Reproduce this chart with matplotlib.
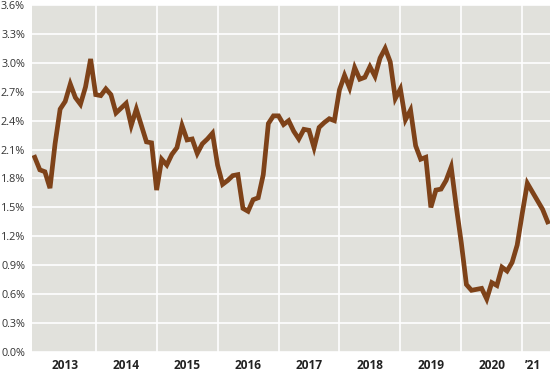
import numpy as np
import matplotlib
matplotlib.use("Agg")
import matplotlib.pyplot as plt
from matplotlib.ticker import FixedLocator, FuncFormatter

# monthly yield readings (%), Jan 2013 onward, one row per year
yields_2013 = [2.02, 1.89, 1.87, 1.70, 2.16, 2.52, 2.60, 2.78, 2.64, 2.57, 2.75, 3.04]
yields_2014 = [2.67, 2.66, 2.73, 2.67, 2.48, 2.53, 2.58, 2.35, 2.52, 2.35, 2.18, 2.17]
yields_2015 = [1.68, 2.00, 1.94, 2.05, 2.12, 2.35, 2.20, 2.21, 2.06, 2.16, 2.21, 2.27]
yields_2016 = [1.94, 1.74, 1.78, 1.83, 1.84, 1.49, 1.46, 1.58, 1.60, 1.84, 2.37, 2.45]
yields_2017 = [2.45, 2.36, 2.40, 2.29, 2.21, 2.31, 2.30, 2.12, 2.33, 2.38, 2.42, 2.40]
yields_2018 = [2.72, 2.87, 2.74, 2.95, 2.83, 2.85, 2.96, 2.86, 3.05, 3.15, 3.01, 2.63]
yields_2019 = [2.73, 2.41, 2.51, 2.14, 2.00, 2.02, 1.50, 1.68, 1.69, 1.78, 1.92, 1.51]
yields_2020 = [1.13, 0.70, 0.64, 0.65, 0.66, 0.55, 0.72, 0.69, 0.88, 0.84, 0.93, 1.11]
yields_2021 = [1.44, 1.75, 1.66, 1.57, 1.48, 1.35]

year_labels = ["2013", "2014", "2015", "2016", "2017", "2018", "2019", "2020", "\u201921"]
label_pos = [2013.5, 2014.5, 2015.5, 2016.5, 2017.5, 2018.5, 2019.5, 2020.5, 2021.17]
yticks = [0.0, 0.3, 0.6, 0.9, 1.2, 1.5, 1.8, 2.1, 2.4, 2.7, 3.0, 3.3, 3.6]

values = (yields_2013 + yields_2014 + yields_2015 + yields_2016 + yields_2017
          + yields_2018 + yields_2019 + yields_2020 + yields_2021)
x = 2013 + np.arange(len(values)) / 12.0

plt.rcParams["font.family"] = ["Open Sans", "DejaVu Sans"]

fig = plt.figure(figsize=(5.5, 3.73), dpi=100)
ax = fig.add_axes([32 / 550, 21 / 373, 518 / 550, 347 / 373])
ax.set_facecolor("#e1e1dc")

ax.plot(x, values, color="#7e4219", lw=3.4, solid_joinstyle="miter", zorder=3)

ax.set_xlim(2012.955, 2021.455)
ax.set_ylim(0, 3.6)

ax.xaxis.set_major_locator(FixedLocator(range(2014, 2022)))
ax.xaxis.set_major_formatter(FuncFormatter(lambda v, p: ""))
ax.set_xticks(label_pos, minor=True)
ax.set_xticklabels(year_labels, minor=True, fontsize=8.6, fontweight="bold", color="#222222")
ax.tick_params(axis="x", which="both", length=0, pad=5)

ax.set_yticks(yticks)
ax.set_yticklabels(["%.1f%%" % t for t in yticks], fontsize=7.8, color="#333333")
ax.tick_params(axis="y", length=0, pad=5)

ax.grid(True, which="major", color="white", lw=1.2)
ax.set_axisbelow(True)
for s in ax.spines.values():
    s.set_visible(False)

fig.savefig("out.png", dpi=100)
